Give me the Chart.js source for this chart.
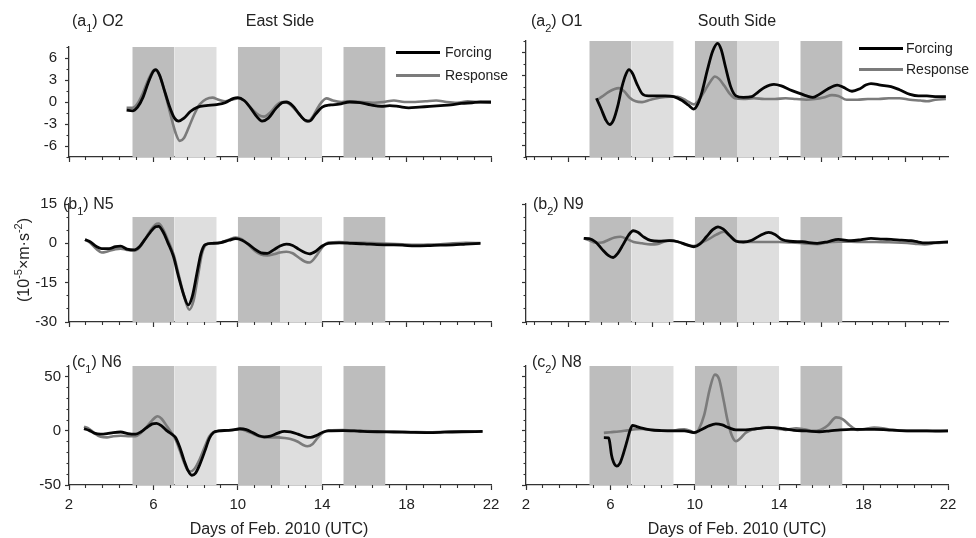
<!DOCTYPE html>
<html>
<head>
<meta charset="utf-8">
<title>Forcing and Response, Feb. 2010</title>
<script src="https://cdn.jsdelivr.net/npm/chart.js@4.4.1/dist/chart.umd.min.js"></script>
<style>
  body { margin: 0; background: #fff; }
  #fig { position: relative; width: 976px; height: 538px; overflow: hidden; background: #fff;
         font-family: "Liberation Sans", Arial, sans-serif; color: #222; }
  #fig canvas { position: absolute; }
  .txt { position: absolute; font-size: 16px; line-height: 16px; white-space: nowrap; z-index: 2; }
  .txt sub { font-size: 11px; vertical-align: -6px; line-height: 0; }
  .txt sup { font-size: 11px; vertical-align: 7px; line-height: 0; }
  .ctr { transform: translateX(-50%); }
  .leg { position: absolute; font-size: 14px; line-height: 14px; white-space: nowrap; z-index: 2; }
  .leg i { position: absolute; left: 0; top: 5.5px; width: 44px; height: 3px; }
</style>
</head>
<body>
<div id="fig">
  <canvas id="a1" width="520" height="150" style="left:0;top:30px"></canvas>
  <canvas id="a2" width="476" height="150" style="left:500px;top:30px"></canvas>
  <canvas id="b1" width="520" height="160" style="left:0;top:186px"></canvas>
  <canvas id="b2" width="476" height="160" style="left:500px;top:186px"></canvas>
  <canvas id="c1" width="520" height="188" style="left:0;top:350px"></canvas>
  <canvas id="c2" width="476" height="188" style="left:500px;top:350px"></canvas>

  <div class="txt" style="left:72px;top:13px">(a<sub>1</sub>) O2</div>
  <div class="txt ctr" style="left:280px;top:13px">East Side</div>
  <div class="txt" style="left:531px;top:13px">(a<sub>2</sub>) O1</div>
  <div class="txt ctr" style="left:737px;top:13px">South Side</div>
  <div class="txt" style="left:63px;top:196px">(b<sub>1</sub>) N5</div>
  <div class="txt" style="left:533px;top:196px">(b<sub>2</sub>) N9</div>
  <div class="txt" style="left:72px;top:354px">(c<sub>1</sub>) N6</div>
  <div class="txt" style="left:532px;top:354px">(c<sub>2</sub>) N8</div>
  <div class="txt ctr" style="left:279px;top:521px">Days of Feb. 2010 (UTC)</div>
  <div class="txt ctr" style="left:737px;top:521px">Days of Feb. 2010 (UTC)</div>
  <div class="txt" style="left:24px;top:260px;transform:translate(-50%,-50%) rotate(-90deg)">(10<sup>-5</sup>×m·s<sup>-2</sup>)</div>

  <div class="leg" style="left:396px;top:45px"><i style="background:#000"></i><span style="margin-left:49px">Forcing</span></div>
  <div class="leg" style="left:396px;top:68px"><i style="background:#7b7b7b"></i><span style="margin-left:49px">Response</span></div>
  <div class="leg" style="left:859px;top:41px"><i style="background:#000"></i><span style="margin-left:47px">Forcing</span></div>
  <div class="leg" style="left:859px;top:62px"><i style="background:#7b7b7b"></i><span style="margin-left:47px">Response</span></div>
</div>

<script>
// shaded periods (days of Feb. 2010)
const darkBands = [[5, 7], [10, 12], [15, 17]];
const lightBands = [[7, 9], [12, 14]];

// x ticks
const dayTicks = [2, 6, 10, 14, 18, 22];
const dayTicksShifted = [4, 8, 12, 16, 20];

// y ticks per row
const aTicks = [-6, -3, 0, 3, 6];
const aMinor = [-7.5, -4.5, -1.5, 1.5, 4.5, 7.5];
const bTicks = [-30, -15, 0, 15];
const bMinor = [-25, -20, -10, -5, 5, 10];
const cTicks = [-50, 0, 50];
const cMinor = [-40, -30, -20, -10, 10, 20, 30, 40, 60];

// (a1) O2, East Side  [day, value]
const a1Forcing = [[4.73,-1.1],[5.0,-1.2],[5.25,-0.7],[5.5,0.6],[5.75,2.6],[6.0,4.2],[6.12,4.4],[6.3,3.6],[6.5,1.8],[6.75,-0.5],[7.0,-2.2],[7.2,-2.6],[7.45,-2.2],[7.75,-1.3],[8.1,-0.7],[8.5,-0.5],[9.0,-0.35],[9.4,-0.1],[9.8,0.5],[10.0,0.6],[10.3,0.2],[10.6,-0.8],[10.9,-2.0],[11.15,-2.6],[11.45,-2.2],[11.8,-0.9],[12.1,-0.1],[12.3,0],[12.6,-0.5],[12.9,-1.6],[13.2,-2.5],[13.4,-2.6],[13.7,-1.6],[14.0,-0.7],[14.4,-0.4],[14.8,-0.3],[15.3,0],[15.8,-0.1],[16.3,-0.4],[16.8,-0.6],[17.2,-0.5],[17.6,-0.6],[18.1,-0.8],[18.6,-0.7],[19.1,-0.6],[19.6,-0.5],[20.1,-0.4],[20.6,-0.2],[21.1,-0.1],[21.5,0],[22,0]];
const a1Response = [[4.73,-0.8],[5.0,-0.8],[5.25,-0.2],[5.5,1.2],[5.75,3.0],[6.0,4.3],[6.1,4.4],[6.3,3.6],[6.55,1.2],[6.8,-1.6],[7.05,-4.2],[7.25,-5.3],[7.45,-4.9],[7.7,-3.3],[7.95,-1.6],[8.2,-0.3],[8.5,0.4],[8.8,0.6],[9.1,0.3],[9.4,0.1],[9.7,0.3],[10.0,0.5],[10.3,0.2],[10.65,-0.9],[11.0,-1.8],[11.25,-2.0],[11.55,-1.4],[11.85,-0.4],[12.1,0],[12.4,-0.2],[12.8,-1.3],[13.1,-2.3],[13.3,-2.7],[13.55,-2.0],[13.85,-0.5],[14.2,0.5],[14.5,0.2],[14.9,0],[15.4,0.1],[15.9,0],[16.4,-0.1],[16.9,0],[17.4,0.2],[17.9,0],[18.4,0],[18.9,0.1],[19.4,0.2],[19.9,0],[20.4,-0.1],[20.9,0.1],[21.4,0],[22,-0.1]];

// (a2) O1, South Side
const a2Forcing = [[5.34,0.1],[5.55,-1.2],[5.8,-2.8],[5.97,-3.3],[6.15,-2.7],[6.35,-0.9],[6.55,1.6],[6.75,3.3],[6.88,3.8],[7.05,3.3],[7.25,2.0],[7.5,0.7],[7.8,0.4],[8.2,0.4],[8.6,0.4],[9.0,0.3],[9.4,-0.2],[9.7,-0.8],[9.95,-1.3],[10.15,-0.6],[10.35,1.0],[10.6,3.8],[10.85,6.2],[11.08,7.2],[11.25,6.4],[11.45,4.2],[11.7,1.6],[11.95,0.4],[12.3,0.2],[12.7,0.3],[13.0,0.9],[13.3,1.5],[13.75,1.9],[14.1,1.7],[14.5,1.2],[15.0,0.7],[15.3,0.4],[15.6,0.2],[15.9,0.6],[16.3,1.3],[16.75,1.8],[17.05,1.5],[17.45,1.0],[17.8,1.3],[18.1,1.8],[18.35,2.0],[18.8,1.8],[19.3,1.6],[19.7,1.2],[20.2,0.6],[20.6,0.4],[21.0,0.4],[21.5,0.3],[21.9,0.3]];
const a2Response = [[5.34,-0.2],[5.6,0.3],[5.9,0.9],[6.2,1.3],[6.4,1.4],[6.65,1.0],[6.9,0.2],[7.2,-0.3],[7.5,-0.4],[7.9,-0.1],[8.4,0.2],[8.8,0.3],[9.2,0.3],[9.6,-0.2],[9.95,-0.7],[10.2,-0.1],[10.5,1.2],[10.75,2.3],[10.95,2.9],[11.15,2.6],[11.4,1.7],[11.65,0.7],[11.9,0.1],[12.3,0],[12.8,0.1],[13.3,0],[13.8,0],[14.3,0.1],[14.8,0],[15.3,-0.1],[15.7,0],[16.1,0.2],[16.5,0.5],[16.8,0.4],[17.2,-0.1],[17.7,-0.1],[18.2,0],[18.7,0],[19.2,0.1],[19.7,0.1],[20.2,-0.1],[20.7,-0.2],[21.0,-0.3],[21.4,-0.1],[21.9,0]];

// (b1) N5
const b1Forcing = [[2.76,1.4],[3.0,0.6],[3.3,-1.2],[3.55,-2.0],[3.9,-2.0],[4.2,-1.3],[4.45,-1.1],[4.75,-2.2],[5.1,-2.5],[5.35,-1.2],[5.6,1.5],[5.85,4.2],[6.1,6.3],[6.25,6.5],[6.45,4.5],[6.7,0],[6.95,-5],[7.2,-13],[7.45,-20],[7.65,-23.5],[7.85,-20],[8.05,-12],[8.25,-4],[8.45,-0.5],[8.8,0],[9.2,0.3],[9.6,1.2],[9.9,1.8],[10.2,1.2],[10.5,-0.3],[10.8,-2.2],[11.1,-3.6],[11.4,-3.8],[11.7,-2.5],[12.0,-1.0],[12.3,-0.3],[12.6,-0.8],[12.9,-2.3],[13.2,-3.6],[13.4,-4.0],[13.7,-3.0],[14.0,-1.0],[14.3,0],[14.8,0.2],[15.4,0],[16.0,-0.2],[16.6,-0.5],[17.2,-0.6],[17.8,-0.7],[18.4,-1.0],[19.0,-0.9],[19.6,-0.7],[20.2,-0.6],[20.8,-0.3],[21.5,0]];
const b1Response = [[2.76,1.4],[3.0,0.2],[3.3,-2.2],[3.55,-3.5],[3.85,-3.0],[4.2,-2.2],[4.45,-2.0],[4.75,-2.5],[5.1,-2.8],[5.35,-1.5],[5.6,1.5],[5.85,4.8],[6.1,7.2],[6.25,7.5],[6.45,5.5],[6.7,1.0],[6.95,-4],[7.2,-12],[7.45,-20],[7.7,-25.3],[7.9,-22],[8.1,-13],[8.3,-4],[8.5,-0.5],[8.8,0],[9.2,0.3],[9.6,1.5],[9.9,2.2],[10.2,1.5],[10.5,-0.5],[10.8,-2.8],[11.1,-4.3],[11.4,-4.6],[11.7,-4.2],[12.0,-3.5],[12.3,-3.2],[12.6,-3.8],[12.9,-5.5],[13.2,-7.0],[13.4,-7.3],[13.7,-5],[14.0,-1.5],[14.3,0.3],[14.8,0.5],[15.4,0.3],[16.0,0.2],[16.6,0],[17.2,-0.2],[17.8,-0.4],[18.4,-0.6],[19.0,-0.5],[19.6,-0.4],[20.2,0],[20.8,0.2],[21.5,0.1]];

// (b2) N9
const b2Forcing = [[4.74,1.9],[5.0,1.8],[5.3,0.5],[5.6,-2.2],[5.9,-4.6],[6.13,-5.4],[6.35,-3.8],[6.6,-0.5],[6.85,3.0],[7.08,4.8],[7.3,4.2],[7.6,2.3],[7.9,1.1],[8.3,0.8],[8.8,1.0],[9.2,0.6],[9.6,-0.5],[9.96,-1.3],[10.25,-0.2],[10.55,2.5],[10.85,5.2],[11.1,6.3],[11.35,5.4],[11.65,3.0],[11.95,0.8],[12.3,0.5],[12.7,1.2],[13.1,3.0],[13.5,4.2],[13.8,3.4],[14.1,1.6],[14.5,0.8],[15.1,0.6],[15.8,0],[16.3,0.6],[16.8,1.5],[17.4,1.0],[17.9,1.4],[18.35,1.9],[18.9,1.6],[19.3,1.5],[19.8,1.2],[20.25,1.0],[20.6,0.5],[20.9,0.2],[21.4,0.3],[22,0.5]];
const b2Response = [[4.74,1.9],[5.0,1.2],[5.3,0.2],[5.6,0.3],[5.9,1.3],[6.2,2.2],[6.48,2.5],[6.8,1.6],[7.1,0.5],[7.5,0],[7.9,-0.4],[8.2,-0.3],[8.6,0.8],[8.9,1.2],[9.3,0.3],[9.65,-0.7],[9.96,-1.0],[10.3,0.2],[10.7,1.8],[11.0,3.2],[11.38,4.4],[11.65,3.0],[11.95,1.0],[12.3,0.5],[12.8,0.5],[13.4,0.5],[14.0,0.5],[14.6,0.3],[15.2,0],[15.8,-0.3],[16.3,0.4],[16.8,0.6],[17.4,0.6],[18.0,0.5],[18.6,0.5],[19.2,0.4],[19.8,0.2],[20.4,-0.1],[20.9,-0.4],[21.4,0.1],[22,0.5]];

// (c1) N6
const c1Forcing = [[2.71,2.0],[2.95,0.5],[3.2,-2.0],[3.5,-3.0],[3.8,-2.5],[4.1,-1.5],[4.45,-1.0],[4.8,-2.5],[5.15,-3.0],[5.4,-1],[5.65,2.5],[5.95,6.5],[6.15,7.0],[6.4,4.5],[6.65,0],[6.9,-3.5],[7.05,-6],[7.25,-15],[7.45,-27],[7.65,-37],[7.82,-41],[8.0,-39],[8.2,-31],[8.45,-18],[8.65,-7],[8.85,-1.5],[9.1,0],[9.5,0.5],[9.8,1],[10.1,2],[10.4,1.2],[10.7,-1.5],[11.0,-4.5],[11.25,-5.5],[11.55,-4.8],[11.9,-2],[12.2,-0.5],[12.5,-1],[12.85,-3],[13.2,-5.5],[13.45,-6],[13.75,-4],[14.05,-1],[14.3,0],[15.0,0.3],[15.8,-0.3],[16.6,-0.8],[17.4,-1.0],[18.2,-1.3],[19.0,-1.5],[19.8,-1.2],[20.6,-0.8],[21.6,-0.5]];
const c1Response = [[2.71,4],[2.95,2],[3.2,-2],[3.5,-5.5],[3.8,-6],[4.1,-5],[4.45,-4.5],[4.8,-4.8],[5.15,-5],[5.4,-2],[5.65,3],[5.95,10],[6.2,13.5],[6.4,11],[6.65,4],[6.9,-3],[7.05,-8],[7.25,-18],[7.45,-29],[7.62,-36],[7.75,-37.5],[7.95,-35],[8.2,-26],[8.45,-14],[8.65,-5],[8.85,-1],[9.1,0],[9.5,0.5],[9.8,1],[10.1,1.5],[10.4,0],[10.7,-2.5],[11.0,-5],[11.25,-6],[11.6,-6],[11.9,-6],[12.2,-6.5],[12.5,-7.5],[12.85,-10],[13.1,-13],[13.3,-14.2],[13.55,-12],[13.8,-6],[14.05,-1.5],[14.3,0.5],[15.0,0.8],[15.8,0],[16.6,-0.5],[17.4,-0.8],[18.2,-1],[19.0,-1.2],[19.8,-0.8],[20.6,-0.5],[21.6,-0.5]];

// (c2) N8
const c2Forcing = [[5.69,-6.2],[5.92,-6.5],[5.98,-12],[6.05,-22],[6.15,-29],[6.3,-32.5],[6.45,-30],[6.6,-22],[6.78,-10],[6.92,0],[7.05,5],[7.25,4],[7.5,2.5],[7.9,1],[8.4,0.3],[9.0,0],[9.5,0],[9.95,-1.5],[10.3,1],[10.65,4.5],[11.0,6.5],[11.3,5.5],[11.6,3],[11.95,1],[12.4,1],[12.9,2],[13.4,3],[13.8,3],[14.2,2],[14.7,0.5],[15.3,0],[15.9,-0.8],[16.4,0],[16.9,1],[17.4,1.5],[17.9,1.5],[18.5,1.5],[19.1,1],[19.7,0.3],[20.3,0],[20.9,0],[21.5,0],[22,0]];
const c2Response = [[5.69,-1.8],[6.0,-1.2],[6.4,-0.5],[6.8,0.5],[7.2,1.5],[7.5,1.8],[7.9,1],[8.4,0.3],[8.9,0.3],[9.2,1],[9.5,1.5],[9.8,0],[10.0,-2],[10.2,2],[10.45,15],[10.7,38],[10.95,52],[11.15,48],[11.35,30],[11.55,10],[11.75,-4],[11.95,-9.5],[12.15,-7],[12.4,-2],[12.7,1],[13.1,2.5],[13.5,3.5],[13.9,2],[14.3,1],[14.8,2.5],[15.2,1.5],[15.6,0],[15.9,0.5],[16.3,5],[16.7,12.5],[17.0,11],[17.35,5],[17.7,1],[18.1,2],[18.5,3],[18.9,2.5],[19.3,1],[19.8,0.3],[20.4,0],[21.0,0],[21.5,-0.5],[22,0]];

const FONT = 'Liberation Sans, Arial, sans-serif';
const AXIS = '#333';
const DARK = '#bdbdbd';
const LIGHT = '#dedede';

// minor x ticks every 0.8 day counted from the first major tick
function minorDays(majors) {
  const out = [2];
  for (let v = majors[0] - 0.8 * 10; v < 22.01; v += 0.8) {
    const r = Math.round(v * 10) / 10;
    if (r > 2 && r <= 22 && !majors.includes(r)) out.push(r);
  }
  return out;
}

function setTicks(list) {
  return function (scale) { scale.ticks = list.map(v => ({ value: v })); };
}

function band(range, top, bottom, color) {
  return {
    data: [{ x: range[0], y: top }, { x: range[1], y: top }],
    backgroundColor: color, borderWidth: 0, pointRadius: 0,
    fill: { value: bottom }, order: 5
  };
}

function makePanel(id, p) {
  const datasets = [];
  darkBands.forEach(b => datasets.push(band(b, p.bandTop, p.yMin, DARK)));
  lightBands.forEach(b => datasets.push(band(b, p.bandTop, p.yMin, LIGHT)));
  datasets.push({
    label: 'Response', data: p.response.map(d => ({ x: d[0], y: d[1] })),
    borderColor: '#7b7b7b', borderWidth: 2.6, order: 1
  });
  datasets.push({
    label: 'Forcing', data: p.forcing.map(d => ({ x: d[0], y: d[1] })),
    borderColor: '#050505', borderWidth: 2.8, order: 0
  });

  new Chart(document.getElementById(id), {
    type: 'line',
    data: { datasets: datasets },
    options: {
      responsive: false, animation: false, events: [],
      layout: { padding: p.pad },
      plugins: { legend: { display: false }, tooltip: { enabled: false } },
      elements: { point: { radius: 0 }, line: { cubicInterpolationMode: 'monotone', fill: false } },
      scales: {
        x: {
          type: 'linear', position: 'bottom', min: 2, max: 22,
          afterBuildTicks: setTicks(p.xMajor),
          afterFit: s => { s.height = p.xLabels ? 30 : 6; },
          ticks: { display: p.xLabels, autoSkip: false, maxRotation: 0, padding: 6, color: '#222',
                   font: { family: FONT, size: 15 }, callback: v => String(v) },
          grid: { drawOnChartArea: false, tickLength: 5, tickColor: AXIS, tickWidth: 1.2 },
          border: { color: AXIS, width: 1.3 }
        },
        xm: {
          type: 'linear', axis: 'x', position: { y: p.yMin }, min: 2, max: 22,
          afterBuildTicks: setTicks(minorDays(p.xMajor)),
          ticks: { display: false },
          grid: { drawOnChartArea: false, tickLength: 3, tickColor: AXIS, tickWidth: 1.1 },
          border: { display: false }
        },
        y: {
          type: 'linear', position: 'left', min: p.yMin, max: p.yMax,
          afterBuildTicks: setTicks(p.yMajor),
          afterFit: s => { s.width = p.yWidth; },
          ticks: { display: p.yLabels, padding: p.yPad, color: '#222',
                   font: { family: FONT, size: 15 }, callback: v => String(v) },
          grid: { drawOnChartArea: false, tickLength: 4, tickColor: AXIS, tickWidth: 1.2 },
          border: { color: AXIS, width: 1.3 }
        },
        ym: {
          type: 'linear', axis: 'y', position: { x: 2 }, min: p.yMin, max: p.yMax,
          afterBuildTicks: setTicks(p.yMinor),
          ticks: { display: false },
          grid: { drawOnChartArea: false, tickLength: 2.5, tickColor: AXIS, tickWidth: 1.1 },
          border: { display: false }
        }
      }
    }
  });
}

const leftPad = (t, b) => ({ left: 0, right: 29, top: t, bottom: b });
const rightPad = (t, b) => ({ left: 0, right: 28, top: t, bottom: b });

makePanel('a1', { forcing: a1Forcing, response: a1Response, yMin: -7.5, yMax: 7.5, bandTop: 7.5,
  yMajor: aTicks, yMinor: aMinor, xMajor: dayTicks, xLabels: false, yLabels: true, yWidth: 69, yPad: 8, pad: leftPad(11, 17) });
makePanel('a2', { forcing: a2Forcing, response: a2Response, yMin: -7.5, yMax: 7.5, bandTop: 7.5,
  yMajor: aTicks, yMinor: aMinor, xMajor: dayTicksShifted, xLabels: false, yLabels: false, yWidth: 26, yPad: 3, pad: rightPad(11, 17) });
makePanel('b1', { forcing: b1Forcing, response: b1Response, yMin: -30, yMax: 15, bandTop: 10,
  yMajor: bTicks, yMinor: bMinor, xMajor: dayTicks, xLabels: false, yLabels: true, yWidth: 69, yPad: 8, pad: leftPad(18, 18) });
makePanel('b2', { forcing: b2Forcing, response: b2Response, yMin: -30, yMax: 15, bandTop: 10,
  yMajor: bTicks, yMinor: bMinor, xMajor: dayTicksShifted, xLabels: false, yLabels: false, yWidth: 26, yPad: 3, pad: rightPad(18, 18) });
makePanel('c1', { forcing: c1Forcing, response: c1Response, yMin: -50, yMax: 60, bandTop: 60,
  yMajor: cTicks, yMinor: cMinor, xMajor: dayTicks, xLabels: true, yLabels: true, yWidth: 69, yPad: 4, pad: leftPad(16, 23) });
makePanel('c2', { forcing: c2Forcing, response: c2Response, yMin: -50, yMax: 60, bandTop: 60,
  yMajor: cTicks, yMinor: cMinor, xMajor: dayTicks, xLabels: true, yLabels: false, yWidth: 26, yPad: 3, pad: rightPad(16, 23) });
</script>
</body>
</html>
